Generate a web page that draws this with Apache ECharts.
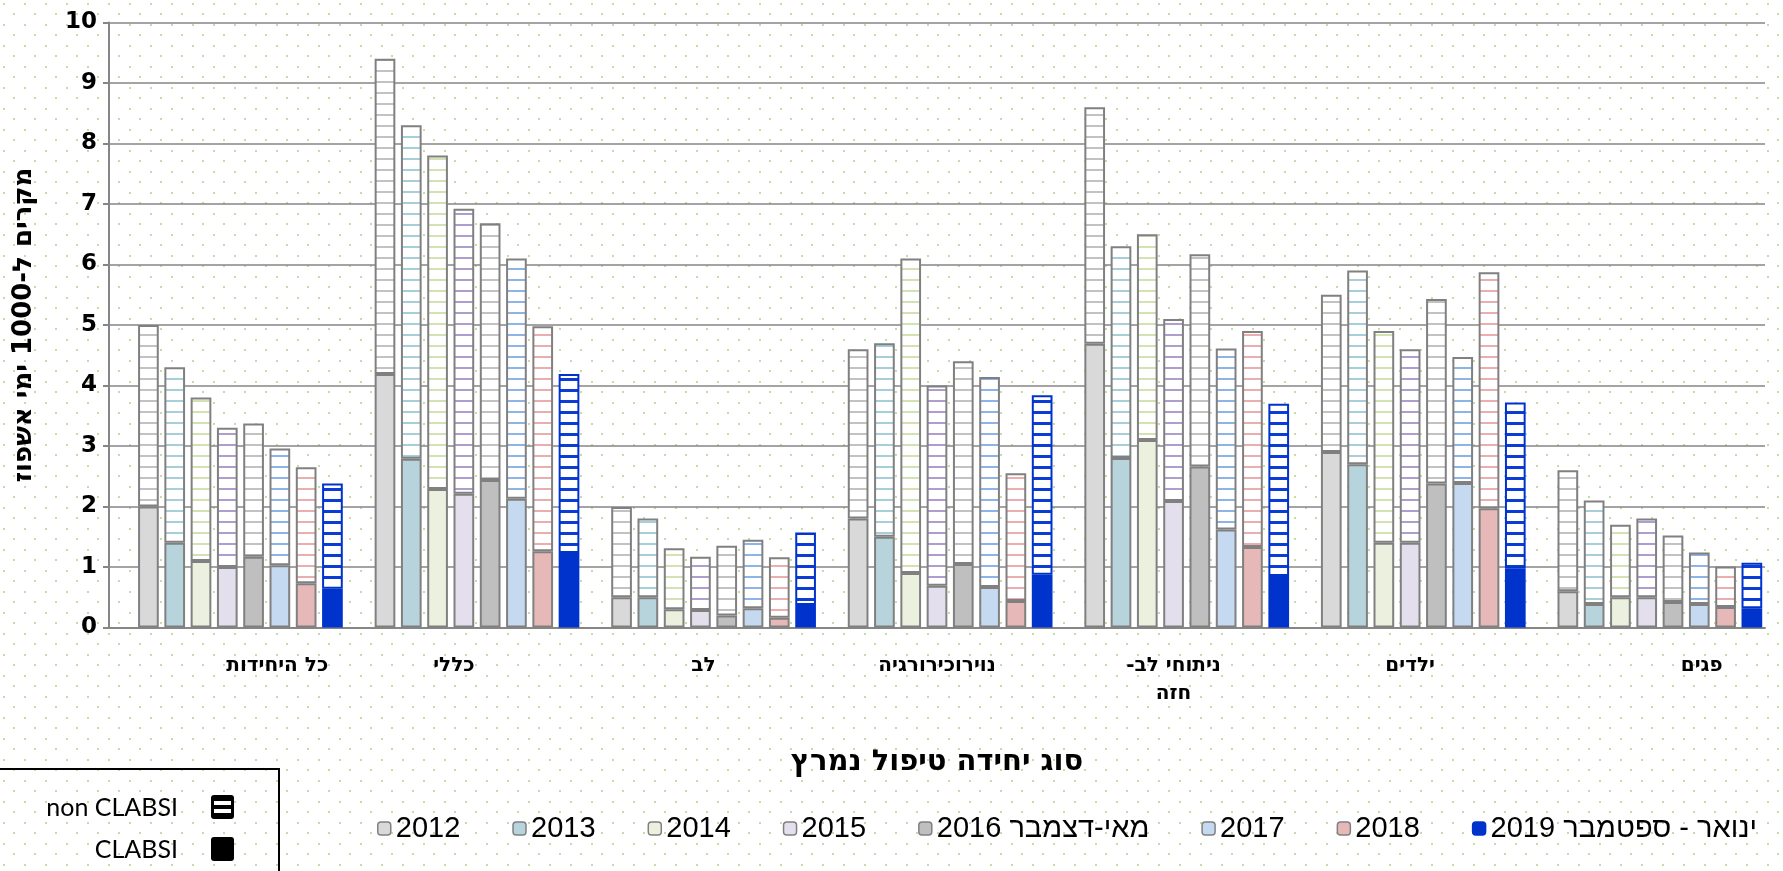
<!DOCTYPE html>
<html>
<head>
<meta charset="utf-8">
<script src="https://cdn.jsdelivr.net/npm/echarts@6/dist/echarts.min.js"></script>
<style>
html, body { margin: 0; padding: 0; background: #fff; }
#chart { width: 1783px; height: 871px; }
</style>
</head>
<body>
<div id="chart"></div>
<script>
// unit types, left to right as in the original
var units = ['כל היחידות', 'כללי', 'לב', 'נוירוכירורגיה', 'ניתוחי לב-\u200F\nחזה', 'ילדים', 'פגים'];
// legend names (logical order chosen so they show like the original)
var years = ['2012', '2013', '2014', '2015', '2016 מאי-דצמבר', '2017', '2018', '2019 ינואר - ספטמבר'];

// total rate per 1000 days (CLABSI + non CLABSI)
var total2012 = [5.0, 9.4, 1.99, 4.6, 8.6, 5.5, 2.6];
var total2013 = [4.3, 8.3, 1.8, 4.7, 6.3, 5.9, 2.1];
var total2014 = [3.8, 7.8, 1.31, 6.1, 6.5, 4.9, 1.7];
var total2015 = [3.3, 6.92, 1.17, 4.0, 5.1, 4.6, 1.8];
var total2016 = [3.37, 6.68, 1.35, 4.4, 6.17, 5.43, 1.52];
var total2017 = [2.96, 6.1, 1.45, 4.14, 4.61, 4.47, 1.24];
var total2018 = [2.65, 4.98, 1.16, 2.55, 4.9, 5.87, 1.01];
var total2019 = [2.38, 4.19, 1.57, 3.84, 3.7, 3.72, 1.07];

// CLABSI part (solid bottom of each bar)
var clabsi2012 = [2.0, 4.19, 0.5, 1.8, 4.69, 2.9, 0.6];
var clabsi2013 = [1.4, 2.79, 0.5, 1.5, 2.8, 2.7, 0.39];
var clabsi2014 = [1.1, 2.29, 0.3, 0.9, 3.1, 1.4, 0.5];
var clabsi2015 = [1.0, 2.21, 0.29, 0.69, 2.09, 1.4, 0.5];
var clabsi2016 = [1.17, 2.44, 0.2, 1.05, 2.66, 2.38, 0.42];
var clabsi2017 = [1.03, 2.13, 0.32, 0.67, 1.62, 2.39, 0.39];
var clabsi2018 = [0.73, 1.26, 0.16, 0.44, 1.33, 1.97, 0.34];
var clabsi2019 = [0.64, 1.23, 0.37, 0.87, 0.85, 0.97, 0.32];

// empty slot on the left of every group, as in the source chart
var spacer = [null, null, null, null, null, null, null];

var totals = [total2012, total2013, total2014, total2015, total2016, total2017, total2018, total2019];
var clabsis = [clabsi2012, clabsi2013, clabsi2014, clabsi2015, clabsi2016, clabsi2017, clabsi2018, clabsi2019];

var fills   = ['#d9d9d9', '#b7d4dc', '#ebf1de', '#e4dfec', '#bfbfbf', '#c5d9f1', '#e6b8b7', '#0033cc'];
var stripes = ['#c2c2c2', '#a6cfda', '#d3e2b2', '#b09dd0', '#c2c2c2', '#8db4e8', '#ebadad', '#0b3dd6'];
var edges   = ['#808080', '#808080', '#808080', '#808080', '#808080', '#808080', '#808080', '#0033cc'];

// horizontal nudge of each category label (px), the source places them unevenly
var labelShift = [50, -10, 3, 0, 0, 0, 55];

var BAR_W = 20.7;
var HEB = 'DejaVu Sans';

// white bar with horizontal lines
function stripeTile(lineColor, thick) {
    var c = document.createElement('canvas');
    c.width = 8; c.height = 11;
    var g = c.getContext('2d');
    g.fillStyle = '#ffffff';
    g.fillRect(0, 0, 8, 11);
    g.fillStyle = lineColor;
    g.fillRect(0, 4, 8, thick);
    return c;
}

// dotted chart background
function dotTile() {
    var c = document.createElement('canvas');
    c.width = 21; c.height = 21;
    var g = c.getContext('2d');
    g.fillStyle = '#ffffff';
    g.fillRect(0, 0, 21, 21);
    g.fillStyle = '#c8dba6';
    g.fillRect(3, 3, 2, 2);
    g.fillRect(13, 13, 2, 2);
    return c;
}

var series = [{
    name: 'spacer',
    type: 'bar',
    stack: 'spacer',
    barWidth: BAR_W,
    barGap: '27%',
    data: spacer,
    silent: true
}];

for (var i = 0; i < years.length; i++) {
    var rest = [];
    for (var j = 0; j < units.length; j++) {
        rest.push(+(totals[i][j] - clabsis[i][j]).toFixed(2));
    }
    series.push({
        name: years[i],
        type: 'bar',
        stack: 's' + i,
        barWidth: BAR_W,
        barGap: '27%',
        data: clabsis[i],
        itemStyle: { color: fills[i], borderColor: edges[i], borderWidth: 2 }
    });
    series.push({
        name: years[i],
        type: 'bar',
        stack: 's' + i,
        barWidth: BAR_W,
        barGap: '27%',
        data: rest,
        itemStyle: {
            color: { image: stripeTile(stripes[i], i == 7 ? 3 : 2), repeat: 'repeat' },
            borderColor: edges[i],
            borderWidth: 2
        }
    });
}

// one rich style per label so each can be nudged
var labelRich = {};
labelShift.forEach(function (s, k) {
    labelRich['c' + k] = {
        fontFamily: HEB, fontWeight: 'bold', fontSize: 20, lineHeight: 28, color: '#000',
        padding: s >= 0 ? [0, 0, 0, 2 * s] : [0, -2 * s, 0, 0]
    };
});

var chart = echarts.init(document.getElementById('chart'));
var option = {
    animation: false,
    backgroundColor: { image: dotTile(), repeat: 'repeat' },
    grid: { left: 109, right: 18, top: 22.5, bottom: 243.5 },
    legend: {
        data: years,
        left: 372,
        top: 809,
        itemGap: 52,
        itemWidth: 13,
        itemHeight: 13,
        selectedMode: false,
        itemStyle: { borderWidth: 1.5 },
        textStyle: { fontFamily: 'Liberation Sans', fontSize: 29, color: '#000' }
    },
    xAxis: {
        type: 'category',
        data: units,
        name: 'סוג יחידה טיפול נמרץ',
        nameLocation: 'middle',
        nameGap: 120,
        nameTextStyle: { fontFamily: HEB, fontWeight: 'bold', fontSize: 29, color: '#000' },
        axisLine: { lineStyle: { color: '#868686', width: 2 } },
        axisTick: { show: false },
        axisLabel: {
            interval: 0,
            margin: 24,
            formatter: function (v, k) {
                return v.split('\n').map(function (line) { return '{c' + k + '|' + line + '}'; }).join('\n');
            },
            rich: labelRich
        }
    },
    yAxis: {
        type: 'value',
        min: 0,
        max: 10,
        interval: 1,
        name: 'מקרים ל-1000 ימי אשפוז',
        nameLocation: 'middle',
        nameGap: 72,
        nameTextStyle: { fontFamily: HEB, fontWeight: 'bold', fontSize: 26, color: '#000' },
        axisLine: { show: true, lineStyle: { color: '#868686', width: 2 } },
        axisTick: { show: true, length: 6, lineStyle: { color: '#868686', width: 2 } },
        axisLabel: { margin: 12, fontFamily: 'DejaVu Sans', fontWeight: 'bold', fontSize: 23, color: '#000' },
        splitLine: { lineStyle: { color: '#868686', width: 1.5 } }
    },
    graphic: [
        { type: 'rect', shape: { x: -4, y: 769, width: 283, height: 110 },
          style: { fill: 'none', stroke: '#000', lineWidth: 2 } },
        { type: 'text', style: { text: 'non CLABSI', x: 178, y: 808, textAlign: 'right', textVerticalAlign: 'middle',
          font: '25px Lato', fill: '#000' } },
        { type: 'text', style: { text: 'CLABSI', x: 178, y: 850, textAlign: 'right', textVerticalAlign: 'middle',
          font: '25px Lato', fill: '#000' } },
        { type: 'rect', shape: { x: 211, y: 795, width: 23, height: 24, r: 3 }, style: { fill: '#000' } },
        { type: 'rect', shape: { x: 214, y: 801, width: 17, height: 4 }, style: { fill: '#fff' } },
        { type: 'rect', shape: { x: 214, y: 809, width: 17, height: 4 }, style: { fill: '#fff' } },
        { type: 'rect', shape: { x: 211, y: 837, width: 23, height: 24, r: 3 }, style: { fill: '#000' } }
    ],
    series: series
};
chart.setOption(option);
</script>
</body>
</html>
